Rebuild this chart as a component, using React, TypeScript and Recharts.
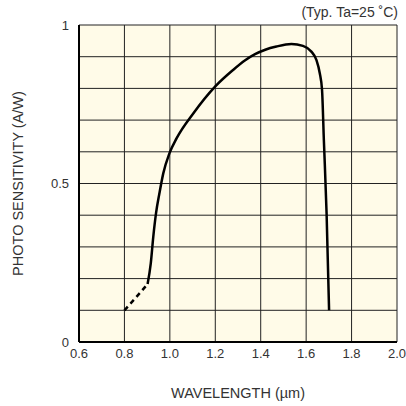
import { LineChart, Line, XAxis, YAxis, CartesianGrid } from 'recharts';

const xTicks = [0.6, 0.8, 1.0, 1.2, 1.4, 1.6, 1.8, 2.0];
const yTicks = [0, 0.1, 0.2, 0.3, 0.4, 0.5, 0.6, 0.7, 0.8, 0.9, 1];

// extrapolated part below 0.9 µm (dashed)
const dashedWl = [0.8, 0.854, 0.902];
const dashedS = [0.1, 0.143, 0.183];

// measured part
const solidWl = [0.902, 0.916, 0.927, 0.939, 0.954, 0.971, 0.998, 1.03, 1.103, 1.198, 1.278, 1.33, 1.375, 1.42, 1.469, 1.535, 1.586, 1.623, 1.645, 1.66, 1.67, 1.678, 1.69, 1.701];
const solidS = [0.183, 0.248, 0.332, 0.406, 0.469, 0.532, 0.595, 0.643, 0.721, 0.805, 0.858, 0.888, 0.908, 0.922, 0.932, 0.94, 0.934, 0.916, 0.89, 0.848, 0.795, 0.637, 0.406, 0.1];

const dashed = dashedWl.map((wl, i) => ({ wl, s: dashedS[i] }));
const solid = solidWl.map((wl, i) => ({ wl, s: solidS[i] }));

const ff = '"Liberation Sans", Arial, sans-serif';
const font = { fontFamily: ff, fontSize: 13, fill: '#333' };

const App = () => {
  return (
    <div style={{ position: 'absolute', left: 0, top: 0, width: 406, height: 406, fontFamily: ff }}>
      <div style={{ position: 'absolute', right: 8, top: 4, fontSize: 14, color: '#333' }}>(Typ. Ta=25 ˚C)</div>
      <LineChart width={406} height={406} margin={{ top: 25, right: 9, left: 0, bottom: 0 }}>
        <CartesianGrid stroke="#222" strokeWidth={1} fill="#fffbe8" fillOpacity={1} horizontalValues={yTicks} verticalValues={xTicks} />
        <XAxis
          type="number"
          dataKey="wl"
          domain={[0.6, 2.0]}
          ticks={xTicks}
          tickFormatter={(v: number) => v.toFixed(1)}
          allowDataOverflow
          height={64}
          tickLine={false}
          stroke="#000"
          strokeWidth={2}
          tick={font}
          tickMargin={1}
          label={{ value: 'WAVELENGTH (µm)', position: 'insideBottom', offset: 8, fontSize: 14.5, fontFamily: ff, fill: '#333' }}
        />
        <YAxis
          type="number"
          domain={[0, 1]}
          ticks={yTicks}
          tickFormatter={(v: number) => (v === 0 ? '0' : v === 0.5 ? '0.5' : v === 1 ? '1' : '')}
          width={79}
          tickLine={false}
          stroke="#000"
          strokeWidth={2}
          tick={font}
          tickMargin={4}
          label={{ value: 'PHOTO SENSITIVITY (A/W)', angle: -90, position: 'center', dx: -22, fontSize: 14.5, fontFamily: ff, fill: '#333' }}
        />
        <Line data={dashed} dataKey="s" type="monotone" stroke="#000" strokeWidth={2.5} strokeDasharray="5 4" dot={false} isAnimationActive={false} />
        <Line data={solid} dataKey="s" type="monotone" stroke="#000" strokeWidth={2.5} dot={false} isAnimationActive={false} />
      </LineChart>
    </div>
  );
};

export default App;
